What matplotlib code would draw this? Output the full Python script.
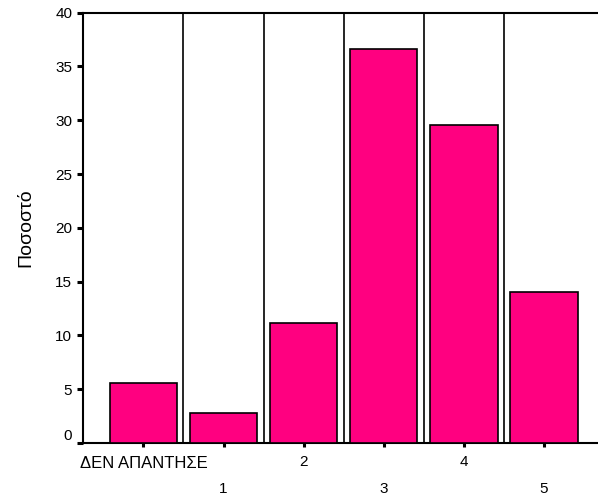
import matplotlib
matplotlib.use("Agg")
import matplotlib.pyplot as plt
import matplotlib.transforms as mtransforms
import numpy as np

categories = ["ΔΕΝ ΑΠΑΝΤΗΣΕ", "1", "2", "3", "4", "5"]
values = [5.6, 2.8, 11.2, 36.6, 29.6, 14.0]
yticks = [0, 5, 10, 15, 20, 25, 30, 35, 40]

plt.rcParams['font.family'] = ['Liberation Sans', 'DejaVu Sans']

fig = plt.figure(figsize=(5.98, 4.95), dpi=100)
ax = fig.add_axes([83.3/598, 52/495, 1 - 83.3/598, (443 - 12.7)/495])

x = np.arange(len(categories))
ax.bar(x, values, width=0.84, color="#FF0080", edgecolor="black", linewidth=1.2, zorder=3)
for i in range(len(categories) - 1):
    ax.axvline(i + 0.5, color="black", linewidth=1.2, zorder=2)

ax.set_xlim(-0.75, 5.674)
ax.set_ylim(0, 40)
ax.set_yticks(yticks)
ax.set_yticklabels([str(t) for t in yticks], fontsize=11)
ax.set_xticks(x)
ax.set_xticklabels(categories, fontsize=11)
ax.get_xticklabels()[0].set_fontsize(12)

ax.spines['right'].set_visible(False)
for s in ['left', 'bottom', 'top']:
    ax.spines[s].set_linewidth(1.5)

ax.tick_params(axis='y', length=4, width=2.2, pad=4)
ax.tick_params(axis='x', length=3, width=2.2, pad=6)
for i, t in enumerate(ax.xaxis.get_major_ticks()):
    if i % 2 == 1:
        t.set_pad(25)

# raise the "0" label as in the reference
lbl0 = ax.get_yticklabels()[0]
lbl0.set_transform(lbl0.get_transform() + mtransforms.ScaledTranslation(0, 6/72, fig.dpi_scale_trans))

ax.set_ylabel("Ποσοστό", fontsize=14, labelpad=15)

fig.savefig("out.png", dpi=100)
